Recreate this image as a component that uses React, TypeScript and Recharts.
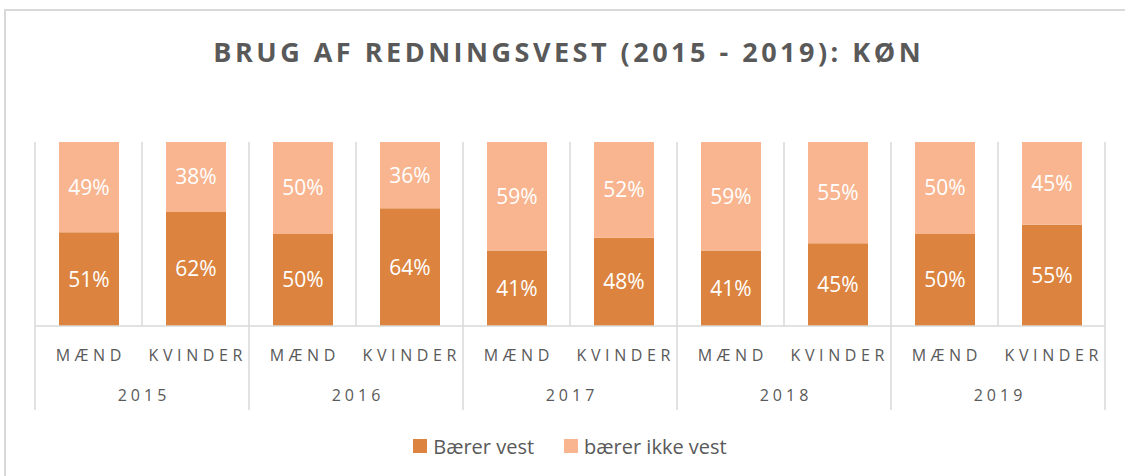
import React from 'react';
import { BarChart, Bar, XAxis, YAxis, Legend, LabelList } from 'recharts';

const years = ['2015', '2016', '2017', '2018', '2019'];
const genders = ['MÆND', 'KVINDER'];
const wearing = [51, 62, 50, 64, 41, 48, 41, 45, 50, 55];
const notWearing = [49, 38, 50, 36, 59, 52, 59, 55, 50, 45];
const seriesNames = ['Bærer vest', 'bærer ikke vest'];
const title = 'BRUG AF REDNINGSVEST (2015 - 2019): KØN';

const data = years.flatMap((year, yi) =>
  genders.map((gender, gi) => {
    const i = yi * genders.length + gi;
    return { key: `${year}-${gender}`, year, gender, wear: wearing[i], noWear: notWearing[i] };
  })
);

const W = 1125;
const H = 476;
const M_LEFT = 35;
const M_RIGHT = 20;
const PLOT_TOP = 142;
const PLOT_BOTTOM = 326;
const AXIS_H = 84;
const LEGEND_H = 30;
const BAND = (W - M_LEFT - M_RIGHT) / data.length;
const GRID = '#D9D9D9';
const TEXT = '#595959';
const DARK = '#DC843F';
const LIGHT = '#F8B58F';
const FONT = '"Open Sans", sans-serif';

function CategoryTick(props: any) {
  const { x, index } = props;
  const row = data[index];
  if (!row) return null;
  const left = x - BAND / 2;
  const isYearStart = index % genders.length === 0;
  const isLast = index === data.length - 1;
  const catSpacing = 4.6;
  const yearSpacing = 4;
  return (
    <g>
      <line x1={left} x2={left} y1={PLOT_TOP} y2={isYearStart ? PLOT_BOTTOM + AXIS_H : PLOT_BOTTOM} stroke={GRID} strokeWidth={1.5} />
      {isLast && (
        <line x1={left + BAND} x2={left + BAND} y1={PLOT_TOP} y2={PLOT_BOTTOM + AXIS_H} stroke={GRID} strokeWidth={1.5} />
      )}
      <text x={x + catSpacing / 2} y={361} textAnchor="middle" fill={TEXT} fontSize={16} fontFamily={FONT} letterSpacing={catSpacing}>
        {row.gender}
      </text>
      {isYearStart && (
        <text x={left + BAND + yearSpacing / 2} y={401} textAnchor="middle" fill={TEXT} fontSize={16} fontFamily={FONT} letterSpacing={yearSpacing}>
          {row.year}
        </text>
      )}
    </g>
  );
}

function LegendContent(props: any) {
  const payload = props.payload || [];
  return (
    <div style={{ display: 'flex', justifyContent: 'center', alignItems: 'center', height: LEGEND_H, fontFamily: FONT, fontSize: 20, color: TEXT }}>
      {payload.map((p: any, i: number) => (
        <div key={i} style={{ display: 'flex', alignItems: 'center', marginLeft: i === 0 ? 0 : 30 }}>
          <span style={{ display: 'inline-block', width: 14, height: 14, background: p.color, marginRight: 6 }} />
          <span>{p.value}</span>
        </div>
      ))}
    </div>
  );
}

export default function App() {
  return (
    <div style={{ position: 'absolute', left: 0, top: 0, width: W, height: H, overflow: 'hidden', background: '#fff' }}>
      <div style={{ position: 'absolute', left: 4, top: 9, width: 1300, height: 700, border: `2px solid ${GRID}`, boxSizing: 'border-box' }} />
      <svg style={{ position: 'absolute', left: 0, top: 0 }} width={W} height={80}>
        <text x={567 + 1.75} y={62} textAnchor="middle" fill={TEXT} fontSize={27} fontWeight={700} fontFamily={FONT} letterSpacing={3.5}>
          {title}
        </text>
      </svg>
      <div style={{ position: 'absolute', left: 0, top: 0 }}>
        <BarChart
          width={W}
          height={H}
          data={data}
          margin={{ top: PLOT_TOP, right: M_RIGHT, left: M_LEFT, bottom: H - PLOT_BOTTOM - AXIS_H - LEGEND_H }}
        >
          <XAxis
            dataKey="key"
            interval={0}
            height={AXIS_H}
            tickLine={false}
            axisLine={{ stroke: GRID, strokeWidth: 1.5 }}
            tick={<CategoryTick />}
          />
          <YAxis hide domain={[0, 100]} />
          <Legend verticalAlign="bottom" height={LEGEND_H} content={<LegendContent />} wrapperStyle={{ bottom: 15 }} />
          <Bar dataKey="wear" name={seriesNames[0]} stackId="a" fill={DARK} barSize={60} isAnimationActive={false}>
            <LabelList dataKey="wear" position="center" fill="#fff" fontSize={21} fontFamily={FONT} formatter={(v: any) => `${v}%`} />
          </Bar>
          <Bar dataKey="noWear" name={seriesNames[1]} stackId="a" fill={LIGHT} barSize={60} isAnimationActive={false}>
            <LabelList dataKey="noWear" position="center" fill="#fff" fontSize={21} fontFamily={FONT} formatter={(v: any) => `${v}%`} />
          </Bar>
        </BarChart>
      </div>
    </div>
  );
}
